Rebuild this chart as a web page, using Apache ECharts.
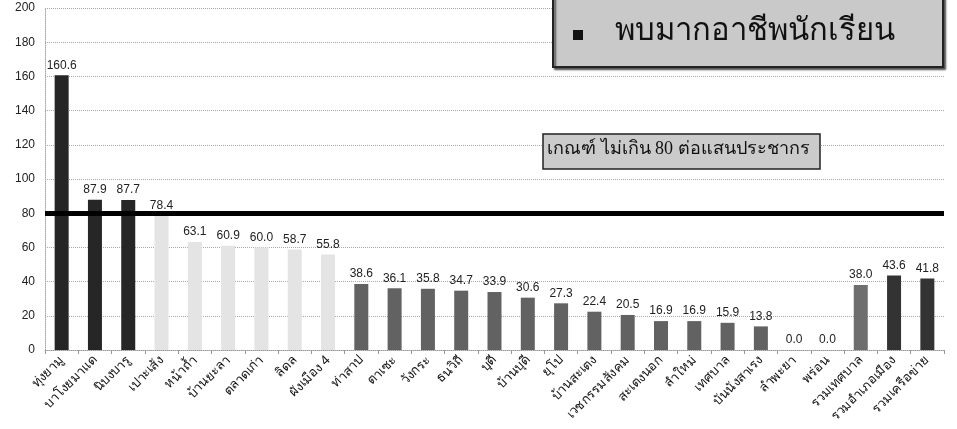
<!DOCTYPE html>
<html>
<head>
<meta charset="utf-8">
<script src="https://cdn.jsdelivr.net/npm/echarts@6/dist/echarts.min.js"></script>
<style>
html,body{margin:0;padding:0;background:#fff;}
#c{width:957px;height:429px;}
</style>
</head>
<body>
<div id="c"></div>
<script>
const categories = ["ทุ่งยามู","บาโงยมาแด","นิบงบารู","เปาะเส้ง","หน้าถ้ำ","บ้านยะลา","ตลาดเก่า","ลิดล","ผังเมือง 4","ท่าสาป","ตาเซะ","วังกระ","ธนวิถี","บุดี","บ้านบุดี","ยุโป","บ้านสะเตง","เวชกรรมสังคม","สะเตงนอก","ลำใหม่","เทศบาล","บันนังสาเรง","ลำพะยา","พร่อน","รวมเทศบาล","รวมอำเภอเมือง","รวมเครือข่าย"];
const rates = [160.6,87.9,87.7,78.4,63.1,60.9,60.0,58.7,55.8,38.6,36.1,35.8,34.7,33.9,30.6,27.3,22.4,20.5,16.9,16.9,15.9,13.8,0.0,0.0,38.0,43.6,41.8];
const groups = ["high","high","high","near","near","near","near","near","near","low","low","low","low","low","low","low","low","low","low","low","low","low","low","low","total","sum","sum"];
const yTicks = [0,20,40,60,80,100,120,140,160,180,200];
const threshold = 80;
const thresholdText = "เกณฑ์ ไม่เกิน 80 ต่อแสนประชากร";
const noteText = "พบมากอาชีพนักเรียน";

const groupColor = {high:"#262626", near:"#e4e4e4", low:"#626262", total:"#6e6e6e", sum:"#333333"};

const chart = echarts.init(document.getElementById('c'));
chart.setOption({
  animation:false,
  backgroundColor:"#ffffff",
  grid:{left:45,right:13,top:8,bottom:79},
  xAxis:{
    type:'category',
    data:categories,
    axisLine:{lineStyle:{color:'#999',type:'dotted'}},
    axisTick:{show:true,length:4,lineStyle:{color:'#999'}},
    axisLabel:{rotate:45,interval:0,fontSize:13,color:'#111',margin:8,fontFamily:'Noto Sans, sans-serif'}
  },
  yAxis:{
    type:'value',min:yTicks[0],max:yTicks[yTicks.length-1],interval:20,
    axisLine:{show:true,lineStyle:{color:'#aaa',type:'dotted'}},
    axisTick:{show:false},
    axisLabel:{fontSize:12,color:'#222',margin:10,fontFamily:'Liberation Sans, sans-serif'},
    splitLine:{lineStyle:{color:'#aaa',type:'dotted'}}
  },
  series:[{
    type:'bar',
    barWidth:14,
    data:rates.map((v,i)=>({value:v,itemStyle:{color:groupColor[groups[i]]}})),
    label:{show:true,position:'top',distance:4,fontSize:12,color:'#222',fontFamily:'Liberation Sans, sans-serif',formatter:p=>p.value.toFixed(1)},
    markLine:{
      symbol:'none',silent:true,
      label:{show:false},
      lineStyle:{color:'#000',width:5,type:'solid'},
      data:[{yAxis:threshold}]
    }
  }],
  graphic:[
    {type:'rect',shape:{x:553,y:-20,width:390,height:87},style:{fill:'#c9c9c9',stroke:'#222',lineWidth:2,shadowColor:'rgba(0,0,0,0.6)',shadowOffsetX:2,shadowOffsetY:2,shadowBlur:2},z:10},
    {type:'rect',shape:{x:573,y:30,width:10,height:10},style:{fill:'#111'},z:11},
    {type:'text',left:615,top:16,style:{text:noteText,fontSize:31,fill:'#111',fontFamily:'Liberation Serif, serif'},z:11},
    {type:'rect',shape:{x:543,y:134,width:277,height:35},style:{fill:'#cbcbcb',stroke:'#222',lineWidth:1.5},z:10},
    {type:'text',left:547,top:140,style:{text:thresholdText,fontSize:18,fill:'#111',fontFamily:'Liberation Serif, serif'},z:11}
  ]
});
</script>
</body>
</html>
